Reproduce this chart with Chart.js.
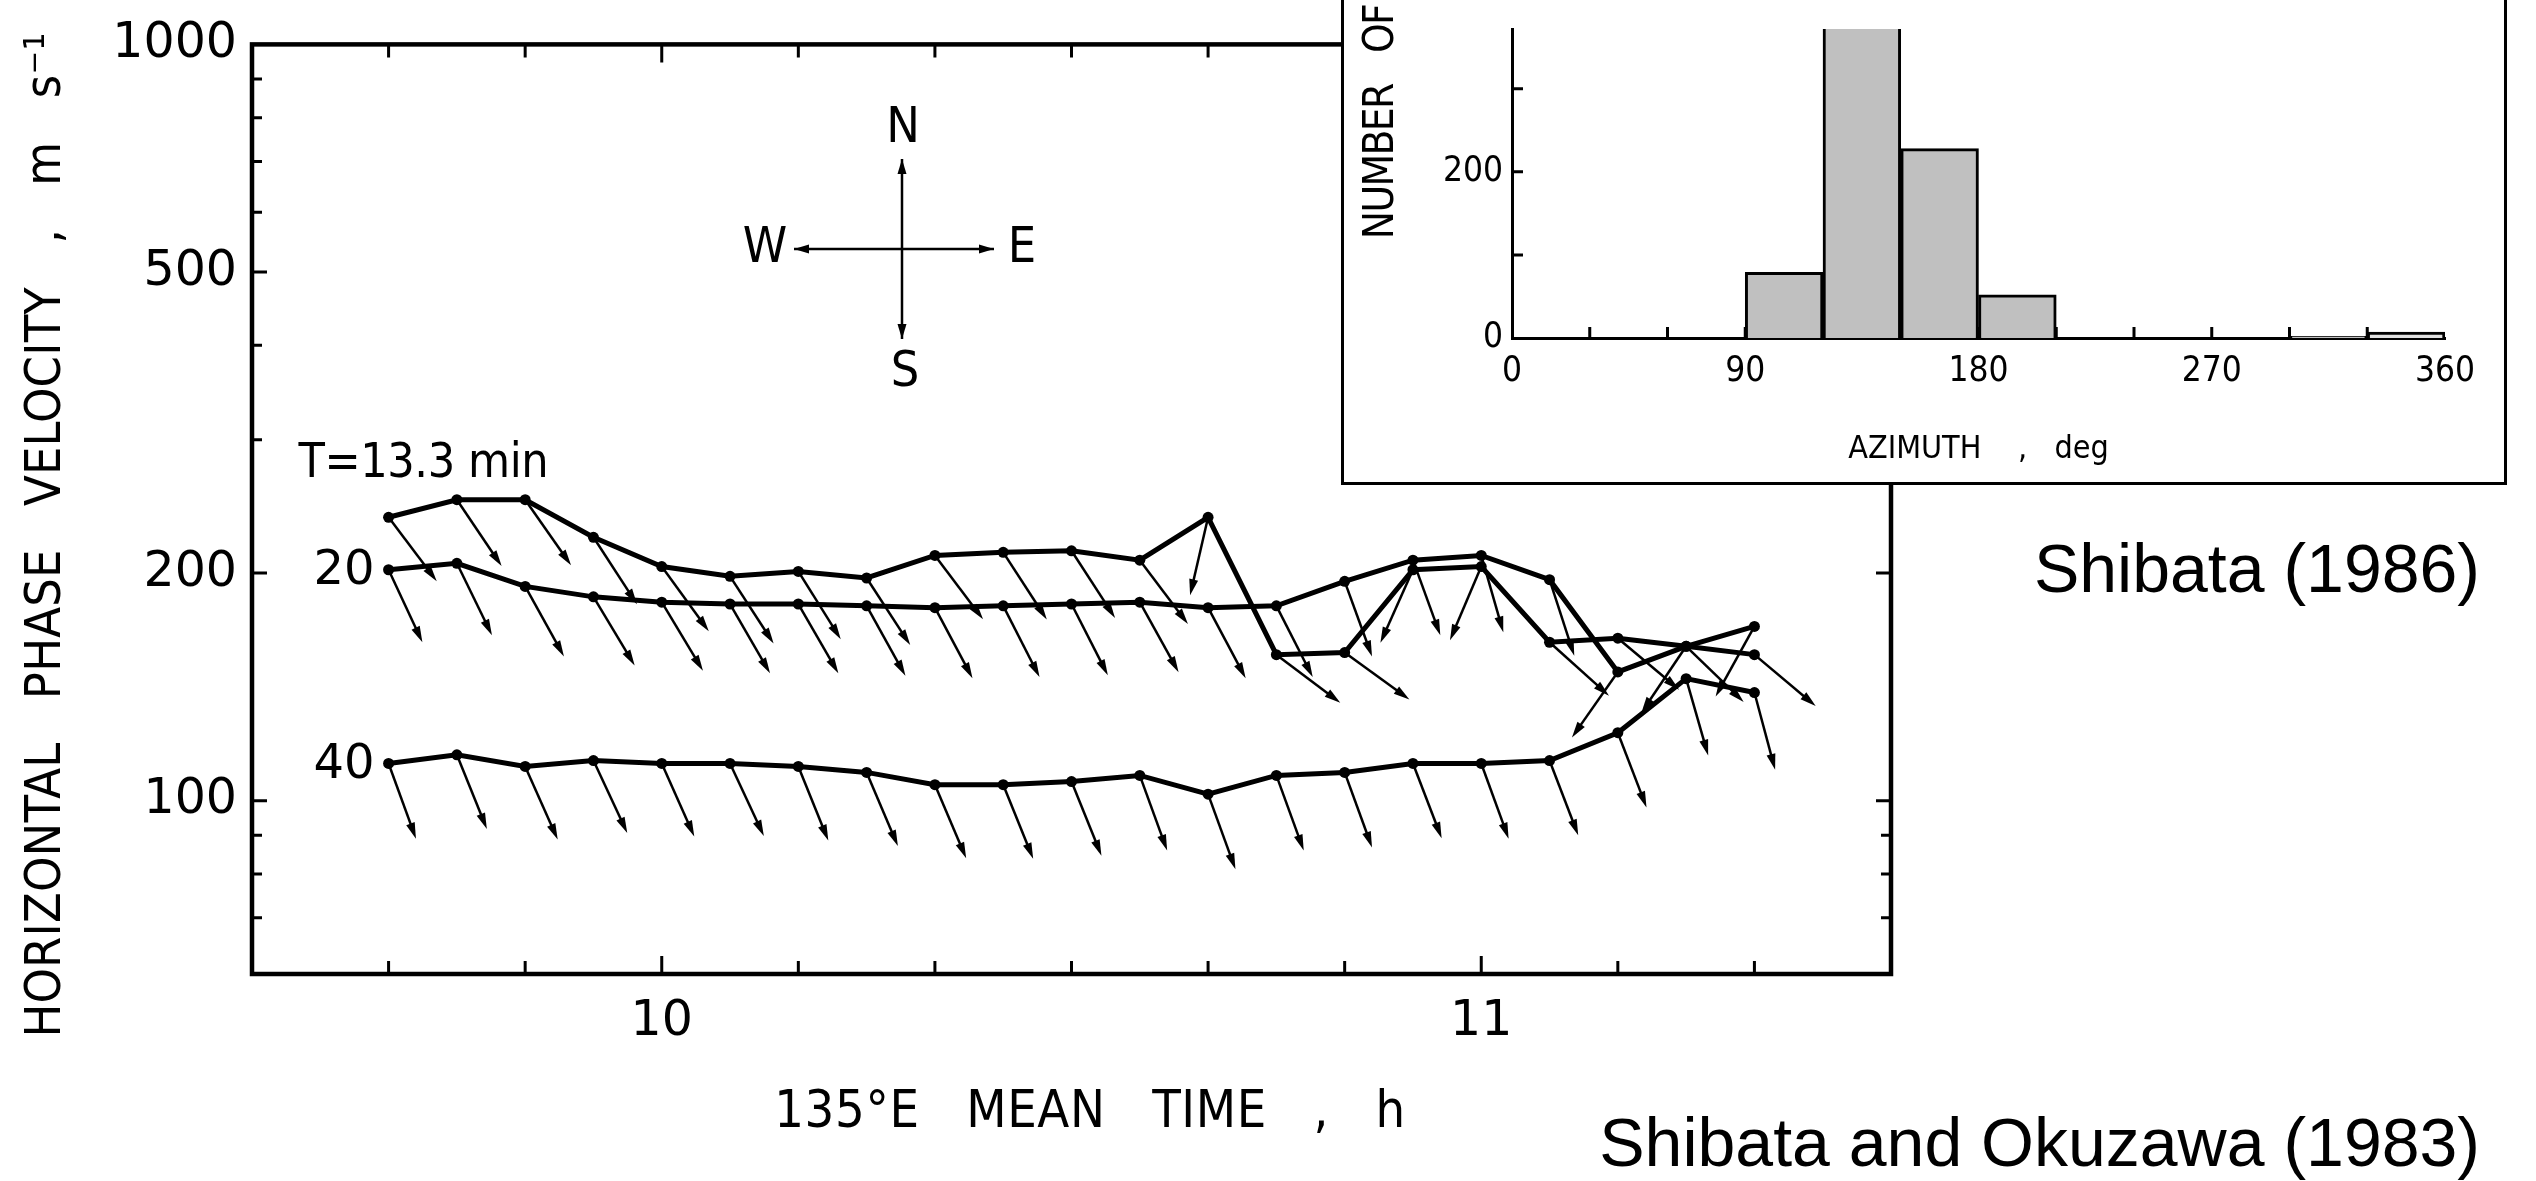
<!DOCTYPE html>
<html>
<head>
<meta charset="utf-8">
<script src="https://cdn.jsdelivr.net/npm/chart.js@4.4.1/dist/chart.umd.min.js"></script>
<style>
  html, body { margin: 0; padding: 0; background: #fff; }
  body { width: 2536px; height: 1181px; position: relative; overflow: hidden; }
  #main { position: absolute; left: 0; top: 0; }
  #insetBox { position: absolute; left: 1341px; top: -4px; width: 1160px; height: 483px;
              border: 3px solid #000; background: #fff; }
  #inset { display: block; }
  .cite { position: absolute; right: 56px; font-family: 'Liberation Sans', Arial, sans-serif;
          font-size: 68px; line-height: 1; color: #000; white-space: nowrap; }
</style>
</head>
<body>
<canvas id="main" width="2536" height="1181"></canvas>
<div id="insetBox"><canvas id="inset" width="1160" height="483"></canvas></div>
<div class="cite" style="top:534px">Shibata (1986)</div>
<div class="cite" style="top:1108px">Shibata and Okuzawa (1983)</div>
<script>
// sampling times, 135°E mean time
const times = ['9:40', '9:45', '9:50', '9:55', '10:00', '10:05', '10:10', '10:15', '10:20', '10:25', '10:30',
               '10:35', '10:40', '10:45', '10:50', '10:55', '11:00', '11:05', '11:10', '11:15', '11:20'];

// horizontal phase velocity (m/s) per period
const velT13 = [237, 250, 250, 223, 204, 198, 201, 197, 211, 213, 214, 208, 237, 156, 157, 202, 204, 162, 164, 160, 156];
const velT20 = [202, 206, 192, 186, 183, 182, 182, 181, 180, 181, 182, 183, 180, 181, 195, 208, 211, 196, 148, 160, 170];
const velT40 = [112, 115, 111, 113, 112, 112, 111, 109, 105, 105, 106, 108, 102, 108, 109, 112, 112, 113, 123, 145, 139];

// propagation azimuth (deg from north, clockwise) per point
const aziT13 = [143, 146, 145, 147, 144, 147, 148, 147, 143, 147, 147, 143, 193, 127, 126, 204, 203, 132, 130, 134, 130];
const aziT20 = [155, 154, 151, 149, 149, 150, 150, 151, 152, 153, 153, 151, 152, 153, 160, 160, 164, 162, 215, 214, 209];
const aziT40 = [160, 158, 156, 155, 156, 155, 158, 157, 157, 158, 158, 160, 160, 160, 160, 159, 160, 159, 159, 164, 165];

const seriesNames = ['T=13.3 min', '20', '40'];

// main chart axes
const yTickLabels = [1000, 500, 200, 100];
const yMinorTicks = [900, 800, 700, 600, 400, 300, 90, 80, 70];
const xTickLabels = [10, 11];
const xMinorTicks = ['9:40', '9:50', '10:10', '10:20', '10:30', '10:40', '10:50', '11:10', '11:20'];

// inset histogram (30 deg bins)
const azimuthBins = [15, 45, 75, 105, 135, 165, 195, 225, 255, 285, 315, 345];
const eventCounts = [0, 0, 0, 79, 430, 228, 52, 0, 0, 0, 2, 7];
const aziTickLabels = [0, 90, 180, 270, 360];
const aziAllTicks = [30, 60, 90, 120, 150, 180, 210, 240, 270, 300, 330];
const countTicks = [100, 200, 300];
const countTickLabels = [0, 200];

const toHours = (t) => {
    const [h, m] = t.split(':').map(Number);
    return h + m / 60;
};

const CONDENSED = '"DejaVu Sans Condensed", "DejaVu Sans", sans-serif';

// draw text stretched to a target length (letter spacing), optionally rotated
function spacedText(ctx, text, x, y, font, target, rot, align) {
    ctx.save();
    ctx.font = font;
    if ('letterSpacing' in ctx) ctx.letterSpacing = '0px';
    if (target && 'letterSpacing' in ctx) {
        const w = ctx.measureText(text).width;
        const n = [...text].length;
        ctx.letterSpacing = ((target - w) / (n - 1)) + 'px';
    }
    ctx.translate(x, y);
    ctx.rotate(rot || 0);
    ctx.textAlign = align || 'center';
    ctx.textBaseline = 'middle';
    ctx.fillText(text, 0, 0);
    ctx.restore();
}

function arrowHead(ctx, tx, ty, ux, uy, hl, hw) {
    const bx = tx - ux * hl, by = ty - uy * hl;
    ctx.beginPath();
    ctx.moveTo(tx, ty);
    ctx.lineTo(bx - uy * hw, by + ux * hw);
    ctx.lineTo(bx + uy * hw, by - ux * hw);
    ctx.closePath();
    ctx.fill();
}

// frame + inward ticks on all four sides
const frameTicks = {
    id: 'frameTicks',
    afterDraw(chart) {
        const { ctx, chartArea: a, scales: { x, y } } = chart;
        ctx.save();
        ctx.strokeStyle = '#000';
        ctx.lineWidth = 4.5;
        ctx.strokeRect(a.left, a.top, a.right - a.left, a.bottom - a.top);
        ctx.lineWidth = 3;
        ctx.beginPath();
        const yt = (v, len) => {
            const py = y.getPixelForValue(v);
            ctx.moveTo(a.left, py); ctx.lineTo(a.left + len, py);
            ctx.moveTo(a.right, py); ctx.lineTo(a.right - len, py);
        };
        yTickLabels.forEach(v => yt(v, 15));
        yMinorTicks.forEach(v => yt(v, 10));
        const xt = (h, len) => {
            const px = x.getPixelForValue(h);
            ctx.moveTo(px, a.bottom); ctx.lineTo(px, a.bottom - len);
            ctx.moveTo(px, a.top); ctx.lineTo(px, a.top + len);
        };
        xTickLabels.forEach(v => xt(v, 18));
        xMinorTicks.forEach(t => xt(toHours(t), 13));
        ctx.stroke();
        ctx.restore();
    }
};

// propagation direction arrows from every point
const vectorArrows = {
    id: 'vectorArrows',
    afterDatasetsDraw(chart) {
        const ctx = chart.ctx;
        const L = 80;
        ctx.save();
        ctx.strokeStyle = '#000';
        ctx.fillStyle = '#000';
        chart.data.datasets.forEach((ds, di) => {
            const meta = chart.getDatasetMeta(di);
            meta.data.forEach((pt, i) => {
                const az = ds.azimuth[i] * Math.PI / 180;
                const ux = Math.sin(az), uy = -Math.cos(az);
                const tx = pt.x + ux * L, ty = pt.y + uy * L;
                ctx.lineWidth = 2.5;
                ctx.beginPath();
                ctx.moveTo(pt.x, pt.y);
                ctx.lineTo(tx - ux * 8, ty - uy * 8);
                ctx.stroke();
                arrowHead(ctx, tx, ty, ux, uy, 16, 4.5);
            });
        });
        ctx.restore();
    }
};

// axis titles, series labels and compass
const mainNotes = {
    id: 'mainNotes',
    afterDraw(chart) {
        const ctx = chart.ctx;
        ctx.save();
        ctx.fillStyle = '#000';
        ctx.strokeStyle = '#000';

        spacedText(ctx, 'HORIZONTAL   PHASE   VELOCITY   ,   m   s\u207B\u00B9', 47, 535,
                   '50px ' + CONDENSED, 1005, -Math.PI / 2);
        spacedText(ctx, '135\u00B0E   MEAN   TIME   ,   h', 1090, 1113, '52px ' + CONDENSED, 631, 0);

        chart.data.datasets.forEach((ds, di) => {
            const p = chart.getDatasetMeta(di).data[0];
            if (di === 0) {
                spacedText(ctx, ds.label, p.x - 90, p.y - 53, '48px ' + CONDENSED, 250, 0, 'left');
            } else {
                spacedText(ctx, ds.label, p.x - 14, p.y + 2, '48px "DejaVu Sans", sans-serif', 0, 0, 'right');
            }
        });

        // compass rose
        const cx = 902, cy = 249;
        ctx.lineWidth = 2.5;
        ctx.beginPath();
        ctx.moveTo(cx, cy - 90); ctx.lineTo(cx, cy + 90);
        ctx.moveTo(cx - 108, cy); ctx.lineTo(cx + 92, cy);
        ctx.stroke();
        arrowHead(ctx, cx, cy - 90, 0, -1, 15, 4.5);
        arrowHead(ctx, cx, cy + 90, 0, 1, 15, 4.5);
        arrowHead(ctx, cx - 108, cy, -1, 0, 15, 4.5);
        arrowHead(ctx, cx + 92, cy, 1, 0, 15, 4.5);
        const cf = '50px ' + CONDENSED;
        spacedText(ctx, 'N', cx + 1, cy - 120, cf, 0, 0);
        spacedText(ctx, 'S', cx + 3, cy + 124, cf, 0, 0);
        spacedText(ctx, 'W', cx - 137, cy, cf, 0, 0);
        spacedText(ctx, 'E', cx + 120, cy, cf, 0, 0);
        ctx.restore();
    }
};

const TICK_FONT = { family: '"DejaVu Sans", sans-serif', size: 49 };

new Chart(document.getElementById('main'), {
    type: 'line',
    data: {
        datasets: [
            { label: seriesNames[0], data: times.map((t, i) => ({ x: toHours(t), y: velT13[i] })), azimuth: aziT13 },
            { label: seriesNames[1], data: times.map((t, i) => ({ x: toHours(t), y: velT20[i] })), azimuth: aziT20 },
            { label: seriesNames[2], data: times.map((t, i) => ({ x: toHours(t), y: velT40[i] })), azimuth: aziT40 }
        ]
    },
    options: {
        responsive: false,
        animation: false,
        devicePixelRatio: 1,
        layout: { padding: { left: 0, top: 35, right: 645, bottom: 0 } },
        plugins: { legend: { display: false }, tooltip: { enabled: false } },
        elements: {
            line: { borderColor: '#000', borderWidth: 5, tension: 0, fill: false },
            point: { radius: 5.5, backgroundColor: '#000', borderColor: '#000', borderWidth: 0 }
        },
        scales: {
            x: {
                type: 'linear', min: 9.5, max: 11.5,
                grid: { display: false, drawTicks: false },
                border: { display: false },
                afterBuildTicks: (s) => { s.ticks = xTickLabels.map(v => ({ value: v })); },
                ticks: { font: TICK_FONT, color: '#000', padding: 19, maxRotation: 0, autoSkip: false,
                         callback: (v) => String(v) },
                afterFit: (s) => { s.height = 207; }
            },
            y: {
                type: 'logarithmic', min: 59, max: 1000,
                grid: { display: false, drawTicks: false },
                border: { display: false },
                afterBuildTicks: (s) => { s.ticks = yTickLabels.map(v => ({ value: v })); },
                ticks: { font: TICK_FONT, color: '#000', padding: 15, autoSkip: false,
                         callback: (v) => String(v) },
                afterFit: (s) => { s.width = 252; }
            }
        }
    },
    plugins: [frameTicks, vectorArrows, mainNotes]
});

// inset: inward ticks and rotated y label
const insetTicks = {
    id: 'insetTicks',
    afterDraw(chart) {
        const { ctx, chartArea: a, scales: { x, y } } = chart;
        ctx.save();
        ctx.strokeStyle = '#000';
        ctx.fillStyle = '#000';
        ctx.lineWidth = 3;
        ctx.beginPath();
        aziAllTicks.forEach(v => {
            const px = x.getPixelForValue(v);
            ctx.moveTo(px, a.bottom); ctx.lineTo(px, a.bottom - 11);
        });
        countTicks.forEach(v => {
            const py = y.getPixelForValue(v);
            ctx.moveTo(a.left, py); ctx.lineTo(a.left + 11, py);
        });
        ctx.stroke();
        spacedText(ctx, 'NUMBER   OF', 38, 123, '42px ' + CONDENSED, 236, -Math.PI / 2);
        ctx.restore();
    }
};

const INSET_FONT = { family: '"Liberation Sans Narrow", "DejaVu Sans Condensed", sans-serif', size: 35 };

new Chart(document.getElementById('inset'), {
    type: 'bar',
    data: {
        datasets: [{
            data: azimuthBins.map((b, i) => ({ x: b, y: eventCounts[i] })),
            backgroundColor: azimuthBins.map((b) => (b > 330 ? '#e0e0e0' : '#c0c0c0')),
            borderColor: '#000',
            borderWidth: 3,
            barPercentage: 1,
            categoryPercentage: 1
        }]
    },
    options: {
        responsive: false,
        animation: false,
        devicePixelRatio: 1,
        layout: { padding: { left: 0, top: 0, right: 59, bottom: 0 } },
        plugins: { legend: { display: false }, tooltip: { enabled: false } },
        scales: {
            x: {
                type: 'linear', min: 0, max: 360, offset: false,
                grid: { display: false, drawTicks: false },
                border: { display: true, color: '#000', width: 3 },
                afterBuildTicks: (s) => { s.ticks = aziTickLabels.map(v => ({ value: v })); },
                ticks: { font: INSET_FONT, color: '#000', padding: 13, maxRotation: 0, autoSkip: false },
                title: { display: true, text: 'AZIMUTH    ,   deg', color: '#000',
                         font: { family: CONDENSED, size: 32 }, padding: { top: 0, bottom: 13 } },
                afterFit: (s) => { s.height = 144; }
            },
            y: {
                min: 0, max: 372,
                grid: { display: false, drawTicks: false },
                border: { display: true, color: '#000', width: 3 },
                afterBuildTicks: (s) => { s.ticks = countTickLabels.map(v => ({ value: v })); },
                ticks: { font: INSET_FONT, color: '#000', padding: 9, autoSkip: false },
                afterFit: (s) => { s.width = 168; }
            }
        }
    },
    plugins: [insetTicks]
});
</script>
</body>
</html>
